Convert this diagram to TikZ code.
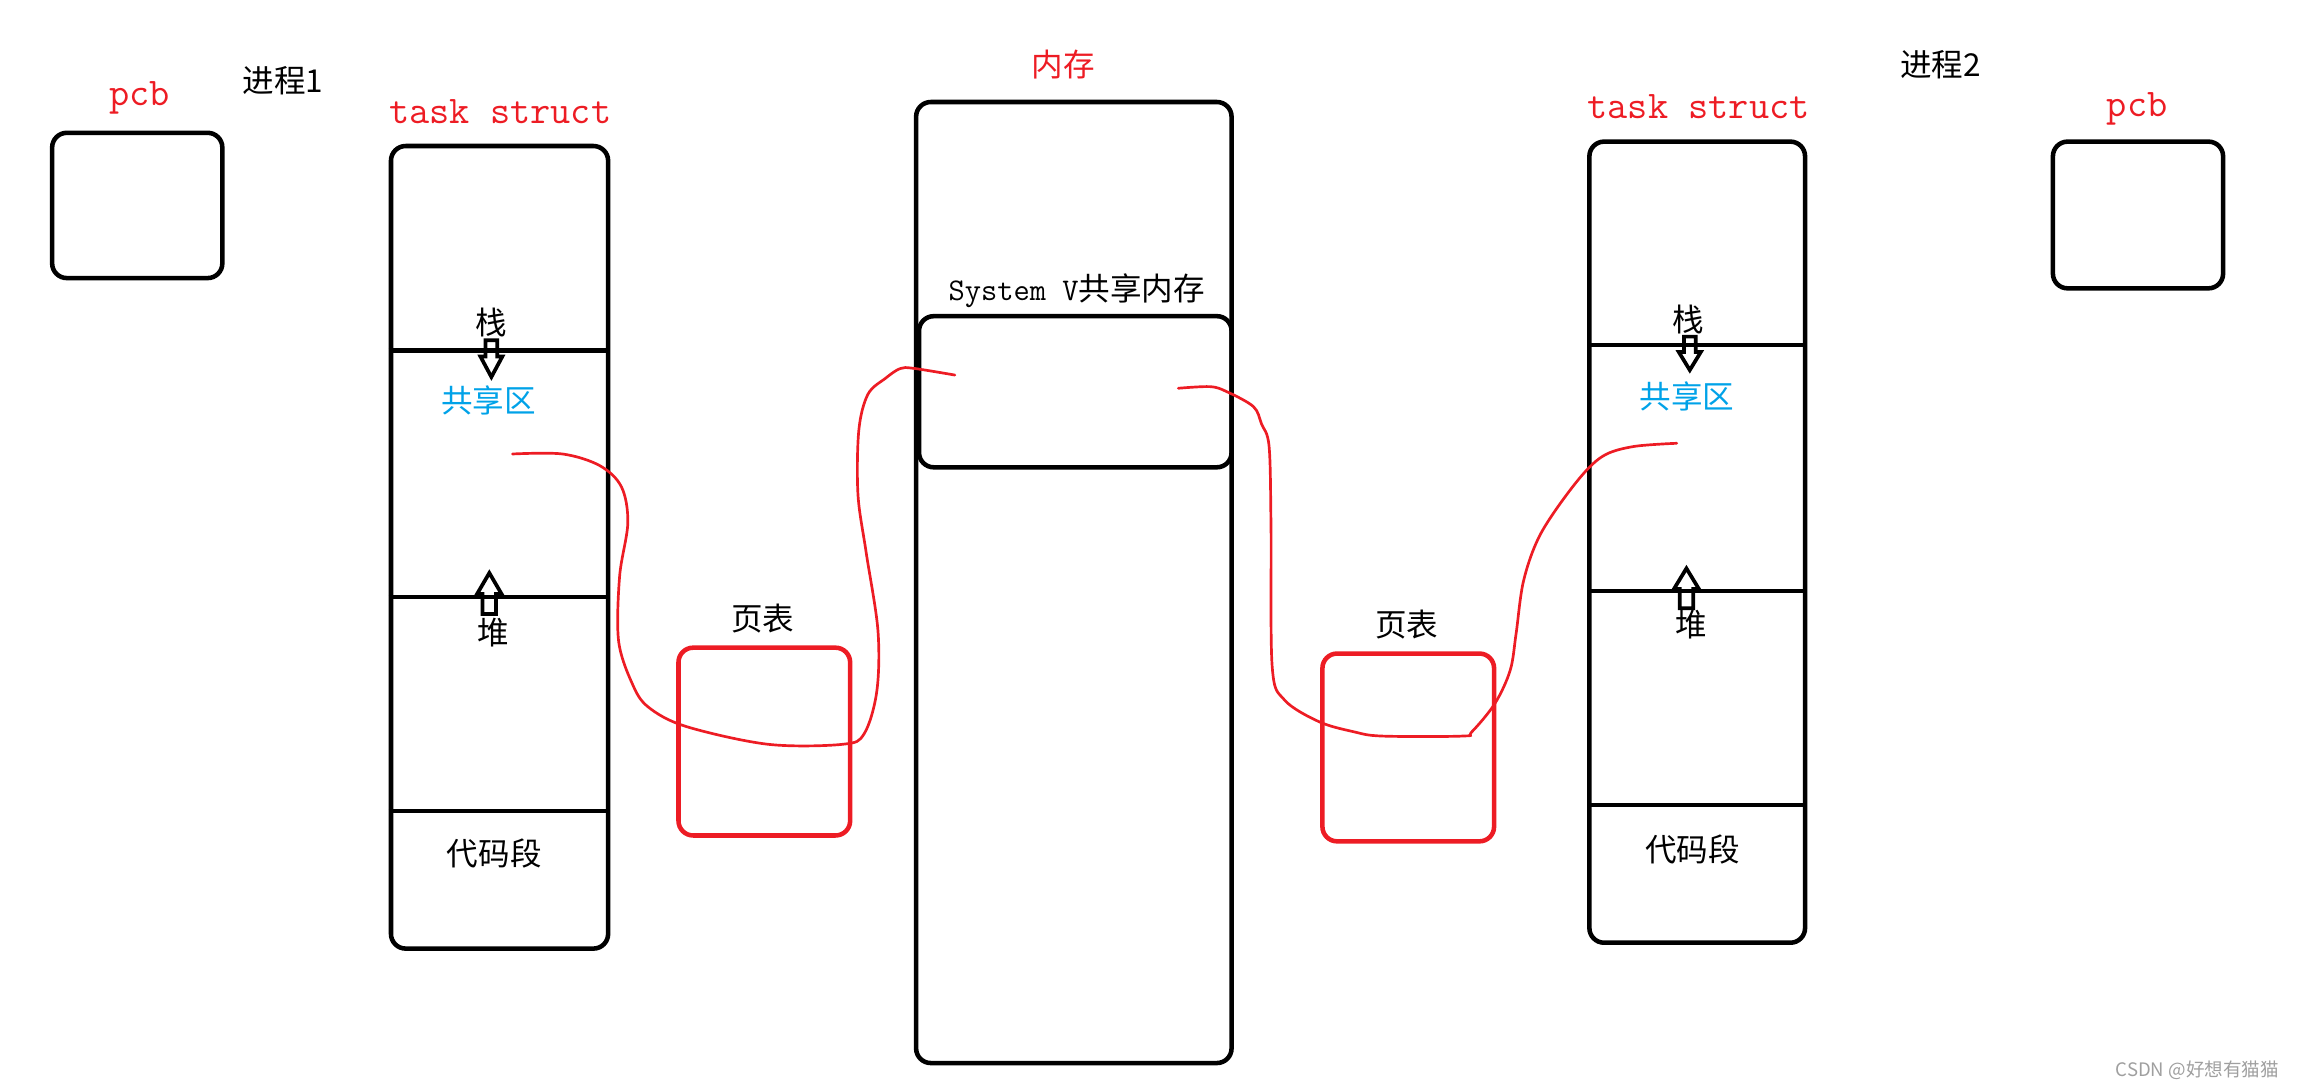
\documentclass[tikz,border=0pt]{standalone}
\usepackage{fontspec}
\newfontfamily\cjk{Noto Sans CJK SC}
\usetikzlibrary{arrows.meta}
\definecolor{paintred}{RGB}{237,28,36}
\definecolor{paintblue}{RGB}{0,162,232}
\tikzset{
  box/.style={draw, line width=2.2pt, rounded corners=0.25cm, anchor=north west, inner sep=0pt},
  ptbox/.style={box, draw=paintred, line width=2.2pt},
  seg/.style={line width=2.1pt},
  growarrow/.style={line width=1.8pt, line join=miter},
  mapline/.style={paintred, line width=1.3pt, line cap=round},
  zh/.style={font=\cjk\fontsize{15.3}{18}\selectfont},
  lbl/.style={text=paintred, font=\ttfamily\fontsize{19}{22}\selectfont},
}

\begin{document}
\begin{tikzpicture}[x=0.025cm, y=-0.025cm]
\useasboundingbox (0,0) rectangle (1568,742);

% process 1
\node[box, minimum width=2.9cm, minimum height=2.475cm] (pcbA) at (34,89) {};
\node[lbl] (pcbAlbl) at (95,67) {pcb};
\node[zh] (procA) at (193,55) {进程1};
\node[lbl] (taskAlbl) at (341,76) {task struct};
\node[box, minimum width=3.7cm, minimum height=13.675cm] (taskA) at (265,98) {};
\foreach \y in {239,407,553}
  \draw[seg] (265,\y) -- (415,\y);
\node[zh] (stackA) at (335,220) {栈};
\node[zh, text=paintblue] (shareA) at (333,273) {共享区};
\node[zh] (heapA) at (336,431) {堆};
\node[zh] (codeA) at (337,582) {代码段};
\draw[growarrow] (331,232) -- (339,232) -- (339,243) -- (342.5,243) -- (335,257) -- (327.5,243) -- (331,243) -- cycle;
\draw[growarrow] (329,418.6) -- (338.2,418.6) -- (338.2,405) -- (342,405) -- (333.6,390.6) -- (325.2,405) -- (329,405) -- cycle;
\node[ptbox, minimum width=2.925cm, minimum height=3.2cm] (pageA) at (461,440) {};
\node[zh] (pageAlbl) at (520,422) {页表};

% memory
\node[zh, text=paintred] (memlbl) at (725,44) {内存};
\node[box, minimum width=5.375cm, minimum height=16.375cm] (mem) at (623,68) {};
\node[box, minimum width=5.325cm, minimum height=2.575cm] (shm) at (625,214) {};
\node (shmlbl) at (734,198) {\ttfamily\fontsize{15.3}{18}\selectfont System V\cjk 共享内存};

% process 2
\node[ptbox, minimum width=2.925cm, minimum height=3.2cm] (pageB) at (900,444) {};
\node[zh] (pageBlbl) at (959,426) {页表};
\node[lbl] (taskBlbl) at (1158,73) {task struct};
\node[box, minimum width=3.675cm, minimum height=13.65cm] (taskB) at (1082,95) {};
\foreach \y in {235,403,549}
  \draw[seg] (1082,\y) -- (1231,\y);
\node[zh] (stackB) at (1151,218) {栈};
\node[zh, text=paintblue] (shareB) at (1150,270) {共享区};
\node[zh] (heapB) at (1153,426) {堆};
\node[zh] (codeB) at (1154,579) {代码段};
\draw[growarrow] (1148,229.5) -- (1156,229.5) -- (1156,240) -- (1159.5,240) -- (1152,252.3) -- (1144.5,240) -- (1148,240) -- cycle;
\draw[growarrow] (1145.1,414.7) -- (1154.3,414.7) -- (1154.3,401.5) -- (1158.2,401.5) -- (1149.7,387.5) -- (1141.2,401.5) -- (1145.1,401.5) -- cycle;
\node[zh] (procB) at (1323,44) {进程2};
\node[lbl] (pcbBlbl) at (1457,74) {pcb};
\node[box, minimum width=2.9cm, minimum height=2.5cm] (pcbB) at (1398,95) {};

% mappings through the page tables
\coordinate (sA) at (349.4,309.5);
\coordinate (mA) at (651,255.7);
\coordinate (mB) at (803.3,264.7);
\coordinate (sB) at (1143.1,302.2);
\draw[mapline] plot[smooth, tension=0.55] coordinates {(sA) (383.5,309.5) (409,317.5) (423.7,332) (428,356.5) (422.4,393) (421.7,436.8) (431,466) (441.8,481.9) (467.5,495.2) (523.5,507.4) (574.6,507.4) (589.2,500.1) (597.8,470.9) (598.5,429.5) (590.4,376) (584.9,337) (585.5,293.2) (591.7,268.8) (603.8,257.8) (613.6,251.3) (622.7,251.1) (mA)};
\draw[mapline] plot[smooth, tension=0.55] coordinates {(mB) (825,263.6) (836.3,267) (854.5,277.2) (860,289) (865.2,304.5) (866.5,359) (867.3,454.5) (875.7,477.2) (899.2,492) (922.6,498.8) (942.2,501.8) (997,501.8) (1003.5,498.8) (1019.2,479.5) (1029.6,456.8) (1033.6,431.8) (1038.8,395.4) (1050.5,363.6) (1074,329.5) (1092.2,311.3) (1113.1,304.5) (sB)};

\node[text=gray!75, font=\cjk\fontsize{9}{10}\selectfont] (mark) at (1498,730) {CSDN @好想有猫猫};
\end{tikzpicture}
\end{document}
